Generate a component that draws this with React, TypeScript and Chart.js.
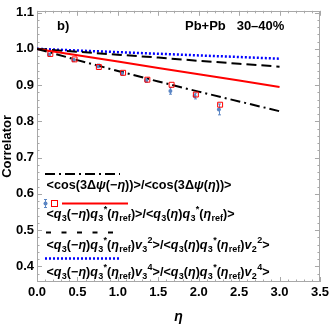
import React, { useEffect, useRef } from 'react';
import { Chart, registerables } from 'chart.js';

Chart.register(...registerables);

// ---- data ----
const etaData = [0.15, 0.45, 0.75, 1.05, 1.35, 1.65, 1.95, 2.25];
const cosRatio = [0.984, 0.969, 0.953, 0.932, 0.913, 0.884, 0.87, 0.833];
const cosRatioErr = [0.004, 0.004, 0.005, 0.005, 0.005, 0.009, 0.008, 0.015];
const etaDataQ = [0.165, 0.465, 0.765, 1.065, 1.365, 1.665, 1.965, 2.265];
const qRatio = [0.986, 0.971, 0.95, 0.934, 0.915, 0.901, 0.874, 0.846];

const etaLine = [0, 0.5, 1.0, 1.5, 2.0, 2.5, 3.0];
const cosLine = [1.0, 0.969, 0.939, 0.91, 0.882, 0.855, 0.828];
const qLine = [1.0, 0.9825, 0.965, 0.9475, 0.93, 0.9125, 0.895];
const qv2Line = [1.0, 0.992, 0.984, 0.976, 0.967, 0.959, 0.951];
const qv4Line = [1.0, 0.9955, 0.991, 0.9865, 0.982, 0.9775, 0.973];

const xTicks = [0, 0.5, 1.0, 1.5, 2.0, 2.5, 3.0, 3.5];
const yTicks = [0.4, 0.5, 0.6, 0.7, 0.8, 0.9, 1.0, 1.1];

const legendTexts = [
  '<cos(3Δψ(−η))>/<cos(3Δψ(η))>',
  '<q_3(−η)q_3^*(η_{ref})>/<q_3(η)q_3^*(η_{ref})>',
  '<q_3(−η)q_3^*(η_{ref})v_3^2>/<q_3(η)q_3^*(η_{ref})v_2^2>',
  '<q_3(−η)q_3^*(η_{ref})v_3^4>/<q_3(η)q_3^*(η_{ref})v_2^4>',
];
const legendWidths = [185, 188, 223, 223];
const panelLabel = 'b)';
const systemLabel = 'Pb+Pb   30–40%';

const FONT = '"Liberation Sans", Arial, sans-serif';
const FRAME = '#a8a8a8';
const BLUE_PT = '#5b86c4';

const pts = (xs: number[], ys: number[]) => xs.map((x, i) => ({ x, y: ys[i] }));

// draws (or only measures) text with sub/superscripts; returns advance width
function drawRich(ctx: CanvasRenderingContext2D, x: number, y: number, str: string, size: number, draw: boolean) {
  const base = `bold ${size}px ${FONT}`;
  const ital = `italic bold ${size}px ${FONT}`;
  const small = `bold ${(size * 0.72).toFixed(1)}px ${FONT}`;
  let i = 0;
  let cx = x;
  const readGroup = () => {
    i++;
    let g = '';
    if (str[i] === '{') {
      i++;
      while (i < str.length && str[i] !== '}') { g += str[i]; i++; }
      i++;
    } else { g = str[i]; i++; }
    return g;
  };
  while (i < str.length) {
    const c = str[i];
    if (c === '_' || c === '^') {
      const isSub = c === '_';
      const g = readGroup();
      ctx.font = small;
      const dy = isSub ? size * 0.24 : -size * 0.45;
      if (draw) ctx.fillText(g, cx + 0.3, y + dy);
      cx += ctx.measureText(g).width + 0.3;
      continue;
    }
    ctx.font = 'qvηψ'.includes(c) ? ital : base;
    if (draw) ctx.fillText(c, cx, y);
    cx += ctx.measureText(c).width;
    i++;
  }
  return cx - x;
}

function drawFitted(ctx: CanvasRenderingContext2D, x: number, y: number, str: string, size: number, target: number) {
  const w = drawRich(ctx, 0, 0, str, size, false);
  const k = w > 0 ? target / w : 1;
  ctx.save();
  ctx.translate(x, y);
  ctx.scale(k, 1);
  drawRich(ctx, 0, 0, str, size, true);
  ctx.restore();
}

const decorPlugin = {
  id: 'decor',
  beforeDatasetsDraw(chart: any) {
    const { ctx, chartArea: a, scales } = chart;
    const xs = scales.x, ys = scales.y;
    ctx.save();
    ctx.strokeStyle = FRAME;
    ctx.lineWidth = 1;
    ctx.strokeRect(Math.round(a.left) + 0.5, Math.round(a.top) + 0.5, Math.round(a.right - a.left) - 1, Math.round(a.bottom - a.top) - 1);
    ctx.beginPath();
    for (let k = 0; k <= 35; k++) {
      const v = k / 10;
      const px = Math.round(xs.getPixelForValue(v)) + 0.5;
      const len = k % 5 === 0 ? 5 : 2.5;
      ctx.moveTo(px, a.bottom); ctx.lineTo(px, a.bottom - len);
      ctx.moveTo(px, a.top); ctx.lineTo(px, a.top + len);
    }
    for (let k = 18; k <= 55; k++) {
      const v = k / 50;
      if (v < ys.min || v > ys.max) continue;
      const py = Math.round(ys.getPixelForValue(v)) + 0.5;
      const len = k % 5 === 0 ? 5 : 2.5;
      ctx.moveTo(a.left, py); ctx.lineTo(a.left + len, py);
      ctx.moveTo(a.right, py); ctx.lineTo(a.right - len, py);
    }
    ctx.stroke();
    // error bars
    ctx.strokeStyle = BLUE_PT;
    ctx.lineWidth = 1;
    ctx.beginPath();
    etaData.forEach((e, i) => {
      const px = Math.round(xs.getPixelForValue(e)) + 0.5;
      const y1 = ys.getPixelForValue(cosRatio[i] + cosRatioErr[i]);
      const y2 = ys.getPixelForValue(cosRatio[i] - cosRatioErr[i]);
      ctx.moveTo(px, y1); ctx.lineTo(px, y2);
      ctx.moveTo(px - 1.5, y1); ctx.lineTo(px + 1.5, y1);
      ctx.moveTo(px - 1.5, y2); ctx.lineTo(px + 1.5, y2);
    });
    ctx.stroke();
    ctx.restore();
  },
  afterDatasetsDraw(chart: any) {
    const { ctx } = chart;
    ctx.save();
    ctx.fillStyle = '#000';
    ctx.textBaseline = 'alphabetic';
    ctx.font = `bold 13px ${FONT}`;
    ctx.fillText(panelLabel, 57, 30);
    ctx.fillText(systemLabel, 185, 30);

    const x0 = 45, x1 = 120;
    // legend 1: dash-dot
    ctx.lineWidth = 2;
    ctx.strokeStyle = '#000';
    ctx.setLineDash([10, 4, 2, 4]);
    ctx.beginPath(); ctx.moveTo(x0, 174); ctx.lineTo(x1, 174); ctx.stroke();
    // legend 2: markers + red line
    ctx.setLineDash([]);
    ctx.strokeStyle = '#ff0000';
    ctx.beginPath(); ctx.moveTo(62, 203.5); ctx.lineTo(128, 203.5); ctx.stroke();
    ctx.lineWidth = 1;
    ctx.strokeRect(51.5, 200.5, 6, 6);
    ctx.strokeStyle = BLUE_PT;
    ctx.beginPath();
    ctx.moveTo(45.5, 199); ctx.lineTo(45.5, 208);
    ctx.moveTo(44, 199.5); ctx.lineTo(47, 199.5);
    ctx.moveTo(44, 207.5); ctx.lineTo(47, 207.5);
    ctx.stroke();
    ctx.fillStyle = BLUE_PT;
    ctx.beginPath(); ctx.arc(45.5, 203.5, 2, 0, Math.PI * 2); ctx.fill();
    // legend 3: dashed
    ctx.lineWidth = 2;
    ctx.strokeStyle = '#000';
    ctx.setLineDash([5, 10.5]);
    ctx.beginPath(); ctx.moveTo(46, 232.5); ctx.lineTo(x1, 232.5); ctx.stroke();
    // legend 4: dotted
    ctx.strokeStyle = '#0000ff';
    ctx.lineWidth = 2.5;
    ctx.setLineDash([2, 2]);
    ctx.beginPath(); ctx.moveTo(x0, 258.5); ctx.lineTo(x1, 258.5); ctx.stroke();
    ctx.setLineDash([]);

    ctx.fillStyle = '#000';
    const baselines = [189, 217.5, 249, 276];
    legendTexts.forEach((t, i) => drawFitted(ctx, 46.5, baselines[i], t, 12.7, legendWidths[i]));
    ctx.restore();
  },
};

export default function App() {
  const ref = useRef<HTMLCanvasElement | null>(null);
  useEffect(() => {
    if (!ref.current) return;
    const line = (data: any, color: string, dash: number[], width: number) => ({
      data, showLine: true, borderColor: color, backgroundColor: color, borderDash: dash,
      borderWidth: width, pointRadius: 0, fill: false, tension: 0,
    });
    const chart = new Chart(ref.current, {
      type: 'scatter',
      data: {
        datasets: [
          {
            data: pts(etaDataQ, qRatio), pointStyle: 'rect', pointRadius: 3.5,
            pointBackgroundColor: 'rgba(0,0,0,0)', pointBorderColor: '#ff0000', pointBorderWidth: 1, showLine: false,
          },
          {
            data: pts(etaData, cosRatio), pointStyle: 'circle', pointRadius: 2,
            pointBackgroundColor: BLUE_PT, pointBorderColor: BLUE_PT, pointBorderWidth: 0, showLine: false,
          },
          line(pts(etaLine, cosLine), '#000000', [10, 4, 2, 4], 2),
          line(pts(etaLine, qLine), '#ff0000', [], 2),
          line(pts(etaLine, qv2Line), '#000000', [10, 5], 2),
          line(pts(etaLine, qv4Line), '#0000ff', [2, 2], 2.5),
        ] as any,
      },
      options: {
        animation: false,
        responsive: false,
        maintainAspectRatio: false,
        layout: { padding: { left: 0, top: 6, right: 9, bottom: 0 } },
        plugins: { legend: { display: false }, tooltip: { enabled: false } },
        scales: {
          x: {
            type: 'linear', min: 0, max: 3.5,
            afterFit: (s: any) => { s.height = 46; },
            afterBuildTicks: (s: any) => { s.ticks = xTicks.map((v) => ({ value: v })); },
            grid: { display: false, drawTicks: false },
            border: { display: false },
            ticks: {
              padding: 3, color: '#000', font: { family: FONT, size: 13, weight: 'bold' },
              callback: (v: any) => Number(v).toFixed(1), maxRotation: 0,
            },
            title: {
              display: true, text: 'η', color: '#000',
              font: { family: FONT, size: 14, weight: 'bold', style: 'italic' },
              padding: { top: 0, bottom: 2 },
            },
          },
          y: {
            type: 'linear', min: 0.357, max: 1.105,
            afterFit: (s: any) => { s.width = 37; },
            afterBuildTicks: (s: any) => { s.ticks = yTicks.map((v) => ({ value: v })); },
            grid: { display: false, drawTicks: false },
            border: { display: false },
            ticks: {
              padding: 3, color: '#000', font: { family: FONT, size: 13, weight: 'bold' },
              callback: (v: any) => Number(v).toFixed(1),
            },
            title: {
              display: true, text: 'Correlator', color: '#000',
              font: { family: FONT, size: 13, weight: 'bold' },
              padding: { top: 0, bottom: 0 },
            },
          },
        },
      } as any,
      plugins: [decorPlugin],
    });
    return () => chart.destroy();
  }, []);
  return (
    <div style={{ position: 'fixed', left: 0, top: 0, width: 332, height: 328, background: '#fff' }}>
      <canvas ref={ref} width={332} height={328} style={{ width: 332, height: 328, display: 'block' }} />
    </div>
  );
}
